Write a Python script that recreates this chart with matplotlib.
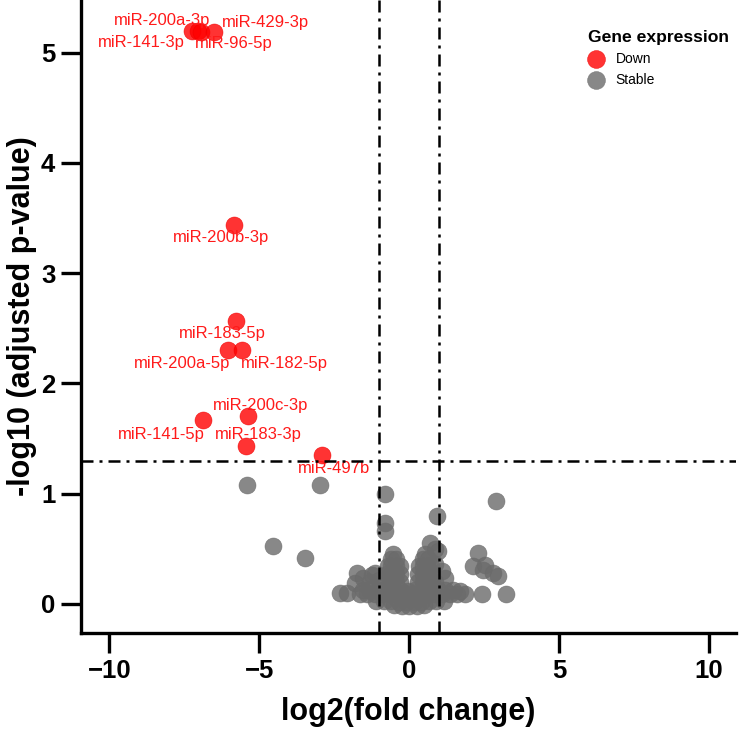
import numpy as np
import matplotlib.pyplot as plt

# significant (down-regulated) miRNAs
down_names = ['miR-200a-3p', 'miR-141-3p', 'miR-96-5p', 'miR-429-3p', 'miR-200b-3p',
              'miR-183-5p', 'miR-200a-5p', 'miR-182-5p', 'miR-200c-3p', 'miR-141-5p',
              'miR-183-3p', 'miR-497b']
down_x = [-7.25, -7.05, -6.95, -6.5, -5.85, -5.79, -6.05, -5.58, -5.38, -6.89, -5.45, -2.91]
down_y = [5.2, 5.2, 5.19, 5.19, 3.44, 2.57, 2.30, 2.30, 1.70, 1.67, 1.43, 1.35]
label_x = [-8.23, -8.93, -5.85, -4.78, -6.29, -6.22, -7.56, -4.15, -4.95, -8.26, -5.02, -2.51]
label_y = [5.29, 5.09, 5.08, 5.27, 3.32, 2.45, 2.18, 2.18, 1.80, 1.54, 1.54, 1.23]

# stable miRNAs, scattered ones
stable_x = [-5.42, -2.98, -4.55, -3.48, -0.8, -0.8, -0.8, 0.94, 2.9, 2.3, 2.14, 2.54,
            2.48, 2.8, 2.98, 2.44, 3.24, -2.3, -2.07, -1.74, -1.8, -1.54, -1.14, 0.7,
            0.97, 1.2, -1.3, -1.0, -1.23, 0.85, 1.1]
stable_y = [1.08, 1.08, 0.53, 0.42, 1.0, 0.73, 0.66, 0.80, 0.93, 0.46, 0.34, 0.35,
            0.31, 0.28, 0.25, 0.09, 0.09, 0.1, 0.1, 0.28, 0.19, 0.24, 0.28, 0.55,
            0.48, 0.24, 0.2, 0.22, 0.26, 0.5, 0.3]

# stable miRNAs, the dense cloud around zero
cloud_x = [-1.65, -1.4, -1.15, -0.9, -0.65, -0.4, -0.15, 0.1, 0.35, 0.6, 0.85, 1.1, 1.35, 1.6, 1.85,
           -1.55, -1.3, -1.05, -0.8, -0.55, -0.3, -0.05, 0.2, 0.45, 0.7, 0.95, 1.2, 1.45, 1.7,
           -1.1, -0.85, -0.6, -0.35, -0.1, 0.15, 0.4, 0.65, 0.9, 1.15,
           -0.5, -0.25, 0.0, 0.25, 0.5,
           -0.75, -0.6, -0.45, -0.3, -0.75, -0.6, -0.45, -0.3, -0.72, -0.6, -0.45, -0.32,
           -0.62, -0.45, -0.53,
           0.3, 0.45, 0.6, 0.75, 0.3, 0.45, 0.6, 0.75, 0.32, 0.45, 0.6, 0.72,
           0.45, 0.62, 0.53, 0.85, 0.88]
cloud_y = [0.09, 0.09, 0.09, 0.09, 0.09, 0.09, 0.09, 0.09, 0.09, 0.09, 0.09, 0.09, 0.09, 0.09, 0.09,
           0.13, 0.13, 0.13, 0.14, 0.14, 0.13, 0.12, 0.13, 0.14, 0.14, 0.13, 0.13, 0.13, 0.12,
           0.03, 0.03, 0.03, 0.02, 0.02, 0.02, 0.02, 0.03, 0.03, 0.03,
           -0.01, -0.02, -0.02, -0.02, -0.01,
           0.2, 0.2, 0.2, 0.2, 0.27, 0.27, 0.27, 0.27, 0.34, 0.34, 0.34, 0.34,
           0.41, 0.41, 0.45,
           0.2, 0.2, 0.2, 0.2, 0.27, 0.27, 0.27, 0.27, 0.34, 0.34, 0.34, 0.34,
           0.41, 0.41, 0.45, 0.2, 0.36]

fig = plt.figure(figsize=(7.39, 7.30), dpi=100)
ax = fig.add_axes([0.1096, 0.1329, 0.886, 0.867])

gray = '#6b6b6b'
st = ax.scatter(stable_x, stable_y, s=150, c=gray, alpha=0.8, linewidths=0.4, edgecolors=gray,
                label='Stable', zorder=2)
ax.scatter(cloud_x, cloud_y, s=150, c=gray, alpha=0.8, linewidths=0.4, edgecolors=gray, zorder=2)
dn = ax.scatter(down_x, down_y, s=150, c='#ff0000', alpha=0.8, linewidths=0.4, edgecolors='#ee0000',
                label='Down', zorder=3)

for name, lx, ly in zip(down_names, label_x, label_y):
    ax.text(lx, ly, name, color='#ff1a1a', fontsize=12, ha='center', va='center',
            family='Liberation Sans', zorder=4)

ax.axvline(-1, color='black', lw=1.8, dashes=(4.8, 2.4, 1.2, 2.4), zorder=5)
ax.axvline(1, color='black', lw=1.8, dashes=(4.8, 2.4, 1.2, 2.4), zorder=5)
ax.axhline(1.3, color='black', lw=1.8, dashes=(4.8, 2.4, 1.2, 2.4), zorder=5)

ax.set_xlim(-10.95, 10.9)
ax.set_ylim(-0.263, 5.476)
ax.set_xticks([-10, -5, 0, 5, 10])
ax.set_yticks([0, 1, 2, 3, 4, 5])

for s in ['top', 'right']:
    ax.spines[s].set_visible(False)
for s in ['left', 'bottom']:
    ax.spines[s].set_linewidth(2.4)
ax.tick_params(width=2.4, length=14.5, pad=4)
for lab in ax.get_xticklabels() + ax.get_yticklabels():
    lab.set_fontsize(18.5)
    lab.set_fontweight('bold')
    lab.set_family('Liberation Sans')

ax.set_xlabel('log2(fold change)', fontsize=22, fontweight='bold', family='Liberation Sans', labelpad=10)
ax.set_ylabel('-log10 (adjusted p-value)', fontsize=22, fontweight='bold', family='Liberation Sans', labelpad=3)

leg = ax.legend(handles=[dn, st], title='Gene expression', loc='upper left',
                bbox_to_anchor=(581 / 739, 1 - 23 / 730), bbox_transform=fig.transFigure,
                frameon=False, borderpad=0, handlelength=1.2, handletextpad=0.8,
                labelspacing=0.5, alignment='left', markerscale=1.05,
                prop={'family': 'Liberation Sans', 'size': 10},
                title_fontproperties={'family': 'Liberation Sans', 'weight': 'bold', 'size': 12.6})

fig.savefig('out.png', dpi=100)
